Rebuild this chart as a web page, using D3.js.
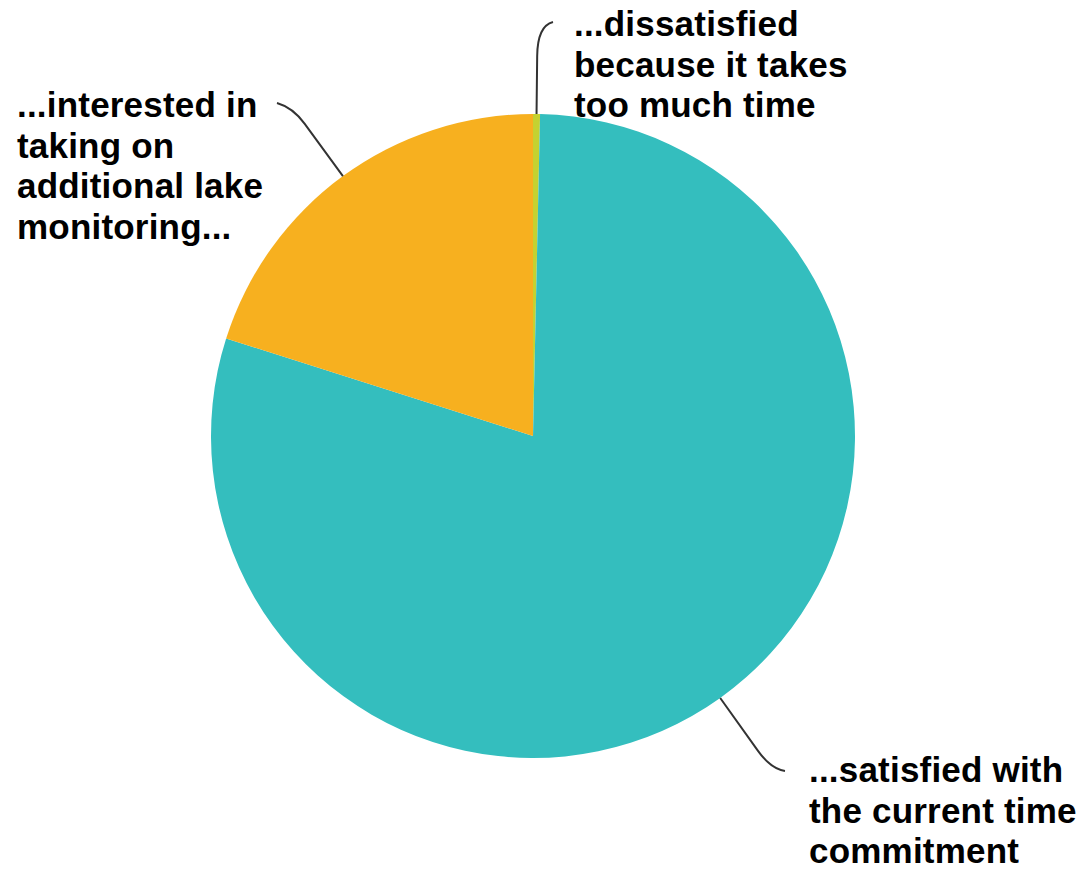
<!DOCTYPE html>
<html>
<head>
<meta charset="utf-8">
<script src="https://cdn.jsdelivr.net/npm/d3@7"></script>
<style>
    html, body { margin: 0; padding: 0; background: #fff; }
    svg { display: block; }
    .label { font-family: "Liberation Sans", Arial, sans-serif; font-weight: bold; font-size: 35px; letter-spacing: 0.2px; fill: #000; }
    .leader { fill: none; stroke: #333; stroke-width: 2px; }
</style>
</head>
<body>
<svg id="chart" width="1084" height="869"></svg>
<script>
// Data (percent of respondents), clockwise from 12 o'clock
const categories = ["dissatisfied", "satisfied", "interested"];
const values = [0.35, 79.55, 20.1];
const labelLines = [
    ["...dissatisfied", "because it takes", "too much time"],
    ["...satisfied with", "the current time", "commitment"],
    ["...interested in", "taking on", "additional lake", "monitoring..."],
];
const colors = ["#c4d231", "#34bebe", "#f7b01f"];

const width = 1084;
const height = 869;
const center = { x: 533, y: 436 };
const radius = 322;
const lineHeight = 40.5;

// label placement: text anchor, leader end point, radial extension and bend
const labelLayout = [
    { textX: 574, textY: 36, endX: 553, endY: 22, ext: 58, bend: 30 },
    { textX: 809, textY: 782, endX: 785, endY: 771, ext: 65, bend: 22 },
    { textX: 17, textY: 117, endX: 277, endY: 103, ext: 65, bend: 20 },
];

const svg = d3.select("#chart");
const g = svg.append("g").attr("transform", `translate(${center.x},${center.y})`);

const pie = d3
    .pie()
    .sort(null)
    .value((d) => d)
    .startAngle(0)
    .endAngle(2 * Math.PI);

const arcs = pie(values);
const arc = d3.arc().innerRadius(0).outerRadius(radius);

g.selectAll(".slice")
    .data(arcs)
    .join("path")
    .attr("class", "slice")
    .attr("d", arc)
    .attr("fill", (d, i) => colors[i]);

// leader lines
function leaderPath(d, i) {
    const lay = labelLayout[i];
    const a = (d.startAngle + d.endAngle) / 2;
    const dx = Math.sin(a);
    const dy = -Math.cos(a);
    const p0 = [dx * radius, dy * radius];
    const p1 = [dx * (radius + lay.ext), dy * (radius + lay.ext)];
    const c = [p1[0] + dx * lay.bend, p1[1] + dy * lay.bend];
    const p2 = [lay.endX - center.x, lay.endY - center.y];
    const path = d3.path();
    path.moveTo(p0[0], p0[1]);
    path.lineTo(p1[0], p1[1]);
    path.quadraticCurveTo(c[0], c[1], p2[0], p2[1]);
    return path.toString();
}

g.selectAll(".leader")
    .data(arcs)
    .join("path")
    .attr("class", "leader")
    .attr("d", leaderPath);

// labels
const labels = svg
    .selectAll(".label")
    .data(labelLines)
    .join("text")
    .attr("class", "label")
    .attr("x", (d, i) => labelLayout[i].textX)
    .attr("y", (d, i) => labelLayout[i].textY);

labels
    .selectAll("tspan")
    .data((d, i) => d.map((t) => ({ t, i })))
    .join("tspan")
    .attr("x", (d) => labelLayout[d.i].textX)
    .attr("dy", (d, j) => (j === 0 ? 0 : lineHeight))
    .text((d) => d.t);
</script>
</body>
</html>
